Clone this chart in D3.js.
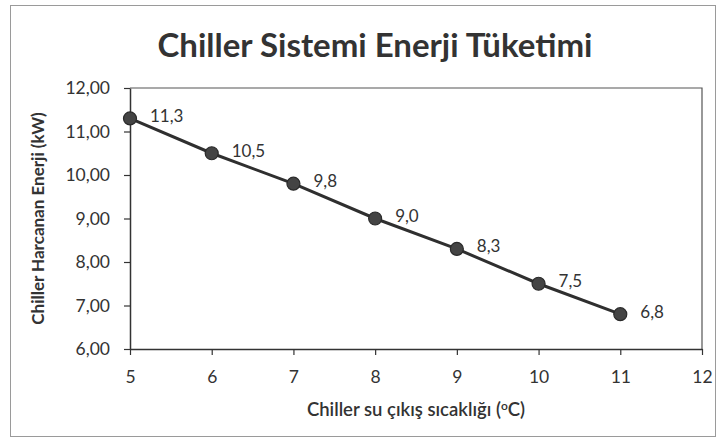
<!DOCTYPE html>
<html><head><meta charset="utf-8">
<script src="https://cdn.jsdelivr.net/npm/d3@7"></script>
<style>body{margin:0;background:#fff;}svg{display:block;}text{font-family:Lato,"Open Sans",sans-serif;fill:#333;}</style>
</head><body>
<script>
const temps = [5, 6, 7, 8, 9, 10, 11];
const energy = [11.3, 10.5, 9.8, 9.0, 8.3, 7.5, 6.8];
const xTicks = [5, 6, 7, 8, 9, 10, 11, 12];
const yTicks = [6, 7, 8, 9, 10, 11, 12];
const title = "Chiller Sistemi Enerji Tüketimi";
const xTitle = "Chiller su çıkış sıcaklığı (";
const yTitle = "Chiller Harcanan Enerji (kW)";

const W = 726, H = 442;
const m = {left: 130, right: 24, top: 88, bottom: 93};
const svg = d3.select("body").append("svg").attr("width", W).attr("height", H);
svg.append("rect").attr("x", 10.5).attr("y", 5.5).attr("width", 705).attr("height", 431)
  .attr("fill", "#fff").attr("stroke", "#9a9a9a").attr("stroke-width", 1);

const x = d3.scaleLinear().domain([5, 12]).range([m.left, W - m.right]);
const y = d3.scaleLinear().domain([6, 12]).range([H - m.bottom, m.top]);
const loc = d3.formatLocale({decimal: ",", thousands: ".", grouping: [3], currency: ["", ""]});
const f2 = loc.format(".2f"), f1 = loc.format(".1f");

svg.append("path").attr("d", `M${x(5)},${y(12)}H${x(12)}V${y(6)}`)
  .attr("fill", "none").attr("stroke", "#555").attr("stroke-width", 1.2);

const gx = svg.append("g").attr("transform", `translate(0,${y(6)})`)
  .call(d3.axisBottom(x).tickValues(xTicks).tickSize(6).tickSizeOuter(0).tickFormat(d => d));
const gy = svg.append("g").attr("transform", `translate(${x(5)},0)`)
  .call(d3.axisLeft(y).tickValues(yTicks).tickSize(6).tickSizeOuter(0).tickFormat(f2));
[gx, gy].forEach(g => {
  g.select(".domain").attr("stroke", "#333").attr("stroke-width", 1.5);
  g.selectAll(".tick line").attr("stroke", "#333").attr("stroke-width", 1.2);
  g.selectAll(".tick text").style("font-size", "17.5px").attr("fill", "#333");
});
gx.selectAll(".tick text").attr("dy", "1.45em");
gy.selectAll(".tick text").attr("dx", "-11");

const pts = temps.map((t, i) => [t, energy[i]]);
svg.append("path").datum(pts)
  .attr("d", d3.line().x(d => x(d[0])).y(d => y(d[1])))
  .attr("fill", "none").attr("stroke", "#2f2f2f").attr("stroke-width", 3);
svg.selectAll("circle.pt").data(pts).enter().append("circle").attr("class", "pt")
  .attr("cx", d => x(d[0])).attr("cy", d => y(d[1])).attr("r", 6.5)
  .attr("fill", "#444").attr("stroke", "#2a2a2a").attr("stroke-width", 1.2);
svg.selectAll("text.lbl").data(pts).enter().append("text").attr("class", "lbl")
  .attr("x", d => x(d[0]) + 20).attr("y", d => y(d[1]))
  .attr("dy", "0.2em").style("font-size", "17px").text(d => f1(d[1]));

svg.append("text").attr("x", 375).attr("y", 57).attr("text-anchor", "middle")
  .style("font-size", "33px").style("font-weight", "bold").attr("fill", "#222").text(title);

const xt = svg.append("text").attr("x", 416).attr("y", 416).attr("text-anchor", "middle")
  .style("font-size", "18.5px").style("font-weight", "600");
xt.append("tspan").text(xTitle);
xt.append("tspan").attr("dy", "-6").style("font-size", "12px").text("o");
xt.append("tspan").attr("dy", "6").text("C)");

svg.append("text").attr("transform", `translate(44,${(y(6) + y(12)) / 2}) rotate(-90)`)
  .attr("text-anchor", "middle").style("font-size", "17px").style("font-weight", "bold").text(yTitle);
</script>
</body></html>
